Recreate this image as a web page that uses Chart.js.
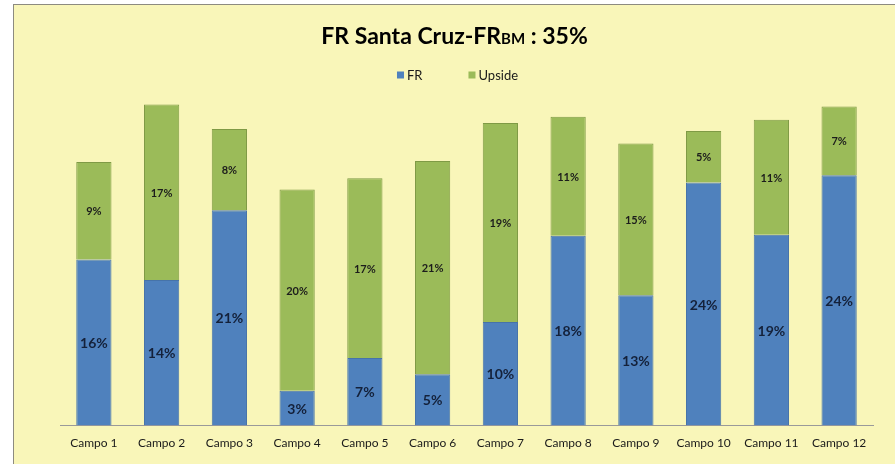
<!DOCTYPE html>
<html>
<head>
<meta charset="utf-8">
<script src="https://cdn.jsdelivr.net/npm/chart.js@4"></script>
<style>
    html, body { margin: 0; padding: 0; background: #ffffff; overflow: hidden; }
    .frame {
        position: absolute;
        left: 13px;
        top: 4px;
        width: 900px;
        height: 480px;
        border: 1px solid #8d8b80;
        background: #f9f6b9;
    }
    .chart-box { position: absolute; left: 0; top: 0; width: 881px; height: 459px; }
</style>
</head>
<body>
<div class="frame">
    <div class="chart-box"><canvas id="frChart"></canvas></div>
</div>
<script>
const categories = ['Campo 1', 'Campo 2', 'Campo 3', 'Campo 4', 'Campo 5', 'Campo 6',
    'Campo 7', 'Campo 8', 'Campo 9', 'Campo 10', 'Campo 11', 'Campo 12'];

// bar heights (in %)
const frValues = [16.2, 14.2, 21.0, 3.4, 6.6, 5.0, 10.1, 18.5, 12.7, 23.7, 18.6, 24.4];
const upsideValues = [9.5, 17.1, 7.9, 19.6, 17.5, 20.8, 19.4, 11.6, 14.8, 5.0, 11.2, 6.7];

// printed labels
const frLabels = [16, 14, 21, 3, 7, 5, 10, 18, 13, 24, 19, 24];
const upsideLabels = [9, 17, 8, 20, 17, 21, 19, 11, 15, 5, 11, 7];

const titleMain = 'FR Santa Cruz-FR';
const titleSub = 'BM';
const titleTail = ' : 35%';

const fontFamily = 'Lato, "Open Sans", sans-serif';

// labels centred in each segment
const segmentLabels = {
    id: 'segmentLabels',
    afterDatasetsDraw(chart) {
        const ctx = chart.ctx;
        chart.data.datasets.forEach((ds, i) => {
            const meta = chart.getDatasetMeta(i);
            meta.data.forEach((bar, j) => {
                const { x, y, base } = bar.getProps(['x', 'y', 'base'], true);
                ctx.save();
                ctx.font = ds.labelFont;
                ctx.fillStyle = ds.labelColor;
                ctx.textAlign = 'center';
                ctx.textBaseline = 'middle';
                ctx.fillText(ds.valueLabels[j] + '%', x, (y + base) / 2 + 1);
                ctx.restore();
            });
        });
    }
};

// title with subscript and a centred legend
const headerPlugin = {
    id: 'header',
    afterDraw(chart) {
        const ctx = chart.ctx;
        const cx = chart.width / 2;
        ctx.save();
        ctx.fillStyle = '#000000';
        ctx.textBaseline = 'alphabetic';
        const big = 'bold 23px ' + fontFamily;
        const small = 'bold 15px ' + fontFamily;
        ctx.font = big;
        const w1 = ctx.measureText(titleMain).width;
        const w3 = ctx.measureText(titleTail).width;
        ctx.font = small;
        const w2 = ctx.measureText(titleSub).width;
        let x = cx - (w1 + w2 + w3) / 2;
        const baseY = 39;
        ctx.textAlign = 'left';
        ctx.font = big;
        ctx.fillText(titleMain, x, baseY);
        x += w1;
        ctx.font = small;
        ctx.fillText(titleSub, x, baseY);
        x += w2;
        ctx.font = big;
        ctx.fillText(titleTail, x, baseY);

        // legend
        ctx.font = '13px ' + fontFamily;
        const box = 7, gapText = 3, gapItem = 46;
        const items = chart.data.datasets.map(ds => ({
            label: ds.label, color: ds.backgroundColor, w: box + gapText + ctx.measureText(ds.label).width
        }));
        const total = items.reduce((s, it) => s + it.w, 0) + gapItem * (items.length - 1);
        let lx = cx + 3 - total / 2;
        const ly = 70;
        ctx.textBaseline = 'middle';
        items.forEach(it => {
            ctx.fillStyle = it.color;
            ctx.fillRect(lx, ly - box / 2, box, box);
            ctx.fillStyle = '#1a1a1a';
            ctx.fillText(it.label, lx + box + gapText, ly + 1);
            lx += it.w + gapItem;
        });
        ctx.restore();
    }
};

new Chart(document.getElementById('frChart'), {
    type: 'bar',
    data: {
        labels: categories,
        datasets: [
            {
                label: 'FR',
                data: frValues,
                valueLabels: frLabels,
                labelFont: 'bold 14px ' + fontFamily,
                labelColor: '#14213a',
                backgroundColor: '#4f81bd',
                borderColor: '#4673a9',
                borderWidth: 1,
                barPercentage: 0.52,
                categoryPercentage: 1.0
            },
            {
                label: 'Upside',
                data: upsideValues,
                valueLabels: upsideLabels,
                labelFont: 'bold 11px ' + fontFamily,
                labelColor: '#1c1c1c',
                backgroundColor: '#9bbb59',
                borderColor: '#7f9a45',
                borderWidth: 1,
                barPercentage: 0.52,
                categoryPercentage: 1.0
            }
        ]
    },
    options: {
        responsive: true,
        maintainAspectRatio: false,
        animation: false,
        layout: {
            padding: { top: 82, right: 22, bottom: 4, left: 46 }
        },
        scales: {
            x: {
                stacked: true,
                grid: { display: false, drawTicks: false },
                border: { display: true, color: '#9a9a9a', width: 1 },
                ticks: {
                    color: '#1a1a1a',
                    padding: 10,
                    font: { family: fontFamily, size: 12 }
                }
            },
            y: {
                stacked: true,
                display: false,
                min: 0,
                max: 33
            }
        },
        plugins: {
            legend: { display: false },
            title: { display: false },
            tooltip: { enabled: false }
        }
    },
    plugins: [segmentLabels, headerPlugin]
});
</script>
</body>
</html>
